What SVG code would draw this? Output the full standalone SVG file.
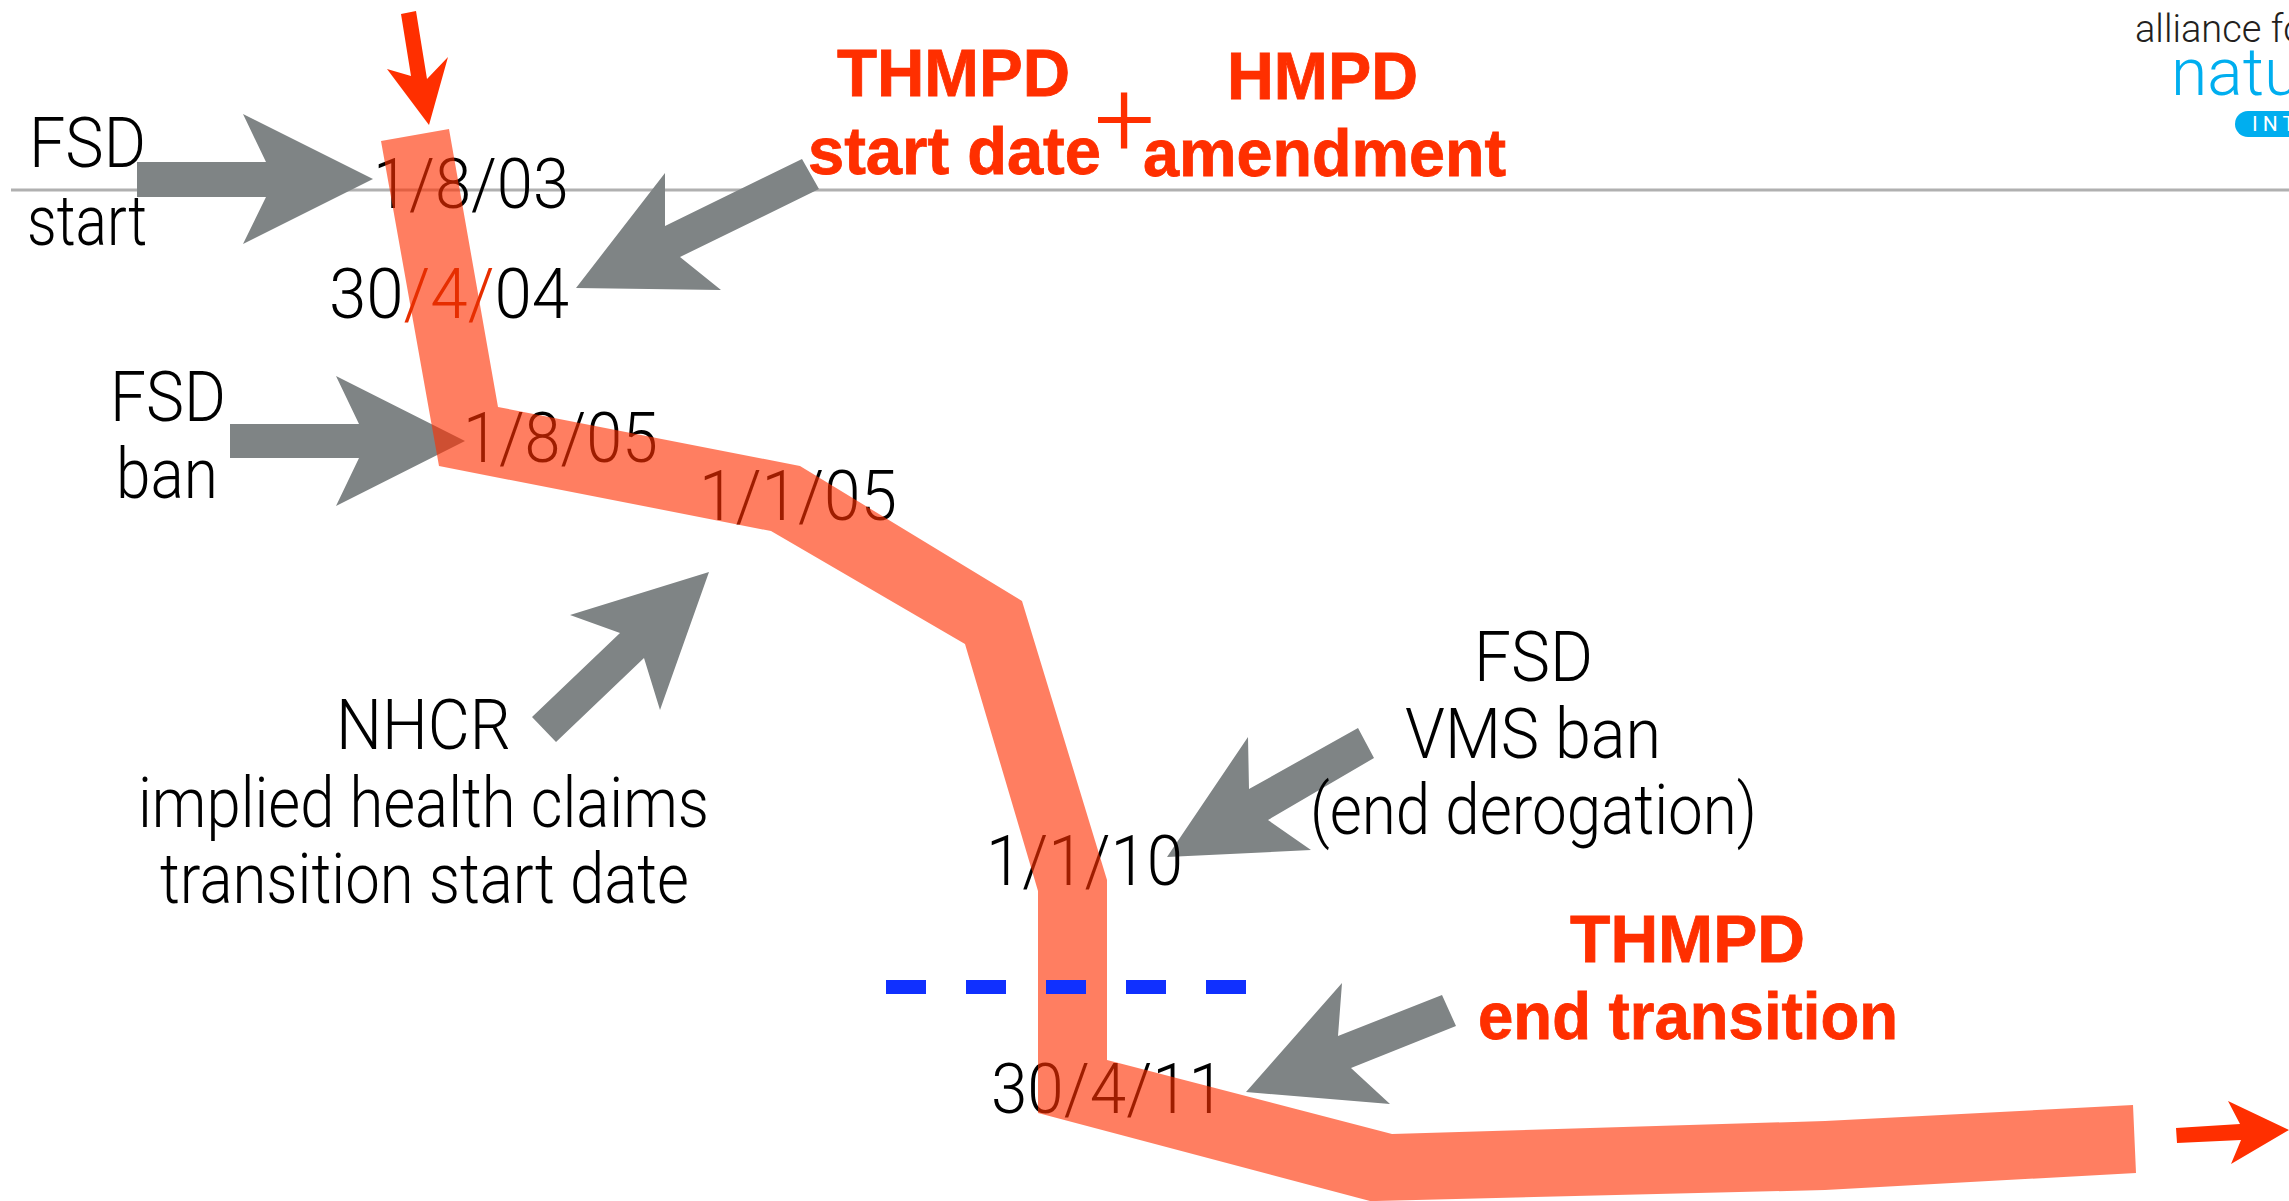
<svg xmlns="http://www.w3.org/2000/svg" width="2289" height="1201" viewBox="0 0 2289 1201">
<style>
text{font-family:"Roboto","Liberation Sans",sans-serif;font-weight:300;font-size:70px;fill:#000;text-anchor:start}
.b{font-family:"Liberation Sans",Arial,sans-serif;font-weight:700;font-size:67px;fill:#ff2f00;stroke:#ff2f00;stroke-width:0.8px}
.g{fill:#7f8485}
.r{fill:#ff2f00}
</style>
<rect width="2289" height="1201" fill="#fff"/>
<line id="baseline" x1="11" y1="190" x2="2289" y2="190" stroke="#b0b0b0" stroke-width="3"/>
<g id="connectors">
<polygon class="g" points="137,162 266,162 243,114 373,179 243,244 266,197 137,197"/>
<polygon class="g" points="802,159 819,189 680,257 721,290 576,288 665,173 665,226"/>
<polygon class="g" points="230,424 359,424 336,376 465,441 336,506 359,458 230,458"/>
<polygon class="g" points="709,572 570,615 620,633 532,717 556,742 644,658 660,710"/>
<polygon class="g" points="1358,728 1374,758 1268,820 1311,850 1167,857 1248,737 1249,789"/>
<polygon class="g" points="1442,995 1456,1026 1351,1068 1390,1104 1246,1092 1342,983 1338,1036"/>
</g>
<g id="node-fsd-start"><text x="29" y="167" textLength="117" lengthAdjust="spacingAndGlyphs">FSD</text><text x="27" y="245" textLength="120" lengthAdjust="spacingAndGlyphs">start</text></g>
<g id="node-fsd-ban"><text x="110" y="421" textLength="116" lengthAdjust="spacingAndGlyphs">FSD</text><text x="116" y="498" textLength="102" lengthAdjust="spacingAndGlyphs">ban</text></g>
<g id="node-nhcr"><text x="336" y="749" textLength="175" lengthAdjust="spacingAndGlyphs">NHCR</text><text x="138" y="827" textLength="571" lengthAdjust="spacingAndGlyphs">implied health claims</text><text x="160" y="903" textLength="529" lengthAdjust="spacingAndGlyphs">transition start date</text></g>
<g id="node-fsd-vms"><text x="1474" y="681" textLength="119" lengthAdjust="spacingAndGlyphs">FSD</text><text x="1405" y="758" textLength="256" lengthAdjust="spacingAndGlyphs">VMS ban</text><text x="1310" y="834" textLength="447" lengthAdjust="spacingAndGlyphs">(end derogation)</text></g>
<g id="node-d1"><text x="373" y="208" textLength="196" lengthAdjust="spacingAndGlyphs">1/8/03</text></g>
<g id="node-d3"><text x="463" y="462" textLength="195" lengthAdjust="spacingAndGlyphs">1/8/05</text></g>
<g id="node-d4"><text x="699" y="520" textLength="198" lengthAdjust="spacingAndGlyphs">1/1/05</text></g>
<g id="node-d5"><text x="986" y="885" textLength="197" lengthAdjust="spacingAndGlyphs">1/1/10</text></g>
<g id="node-d6"><text x="991" y="1113" textLength="234" lengthAdjust="spacingAndGlyphs">30/4/11</text></g>
<polygon id="band" points="381,141 449,129 498,407 800,466 1022,601 1107,880 1107,1060 1392,1134 1825,1121 2133,1105 2136,1173 1825,1190 1376,1201 1370,1201 1038,1113 1038,891 965,644 771,531 439,466" fill="#ff2f00" fill-opacity="0.62"/>
<g id="node-d2"><text x="329" y="318" textLength="240" lengthAdjust="spacingAndGlyphs">30<tspan fill="#e62e00">/4/</tspan>04</text></g>
<line id="dashes" x1="886" y1="987" x2="1246" y2="987" stroke="#1030ff" stroke-width="14" stroke-dasharray="40 40"/>
<g id="red-arrows">
<polygon class="r" points="401,14 416,11 427,79 448,57 429,125 387,69 411,76"/>
<polygon class="r" points="2176,1128 2240,1124 2228,1101 2289,1130 2231,1164 2241,1140 2177,1143"/>
</g>
<g id="node-thmpd-start"><text class="b" x="837" y="96" textLength="233" lengthAdjust="spacingAndGlyphs">THMPD</text><text class="b" x="808" y="174" textLength="293" lengthAdjust="spacingAndGlyphs">start date</text></g>
<g id="node-plus"><text x="1094" y="156" style="font-size:108px;font-weight:300;fill:#ff2f00">+</text></g>
<g id="node-hmpd"><text class="b" x="1227" y="99" textLength="191" lengthAdjust="spacingAndGlyphs">HMPD</text><text class="b" x="1143" y="176" textLength="363" lengthAdjust="spacingAndGlyphs">amendment</text></g>
<g id="node-thmpd-end"><text class="b" x="1570" y="962" textLength="235" lengthAdjust="spacingAndGlyphs">THMPD</text><text class="b" x="1478" y="1039" textLength="420" lengthAdjust="spacingAndGlyphs">end transition</text></g>
<g id="logo">
<text x="2135" y="42" style="font-size:38px;fill:#231f20">alliance fo</text>
<text x="2171" y="95" style="font-size:66px;fill:#00aeef">natur</text>
<path d="M2248,111H2289V137H2248A13,13 0 0 1 2248,111Z" fill="#00aeef"/>
<text x="2252" y="131" style="font-size:21px;font-weight:400;fill:#fff;letter-spacing:5px">INT</text>
</g>
</svg>
